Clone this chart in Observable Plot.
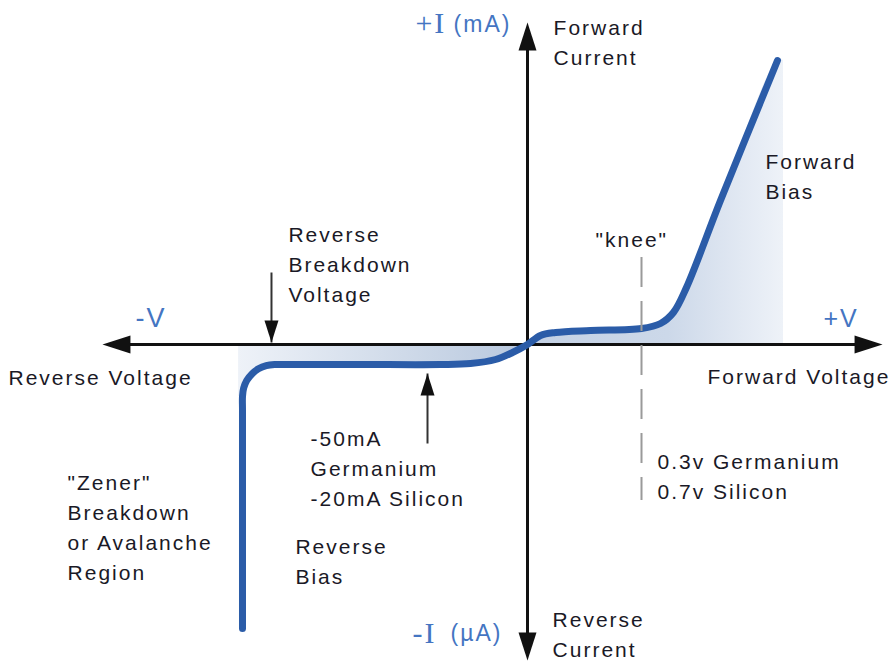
<!DOCTYPE html>
<html><head><meta charset="utf-8">
<script src="https://cdn.jsdelivr.net/npm/d3@7"></script>
<script src="https://cdn.jsdelivr.net/npm/@observablehq/plot@0.6"></script>
<style>
html,body{margin:0;padding:0;background:#fff;overflow:hidden}
svg text{letter-spacing:2px}
</style></head><body><div id="chart"></div>
<script>
// ---- Diode I-V characteristic (schematic units: V on x, current on y) ----
const curveV = [-1.750,-1.750,-1.750,-1.750,-1.743,-1.724,-1.692,-1.652,-1.604,-1.553,-1.455,-1.025,-0.534,-0.350,-0.196,-0.092,0,0.080,0.172,0.387,0.700,0.817,0.896,0.976,1.185,1.535];
const curveI = [-28.4,-15.6,-6.6,-5.2,-4.37,-3.6,-2.94,-2.43,-2.11,-2.0,-2.0,-2.0,-2.0,-1.9,-1.5,-0.8,0,0.9,1.2,1.4,1.6,2.1,3.2,5.7,14.4,28.4];
const reverseShadeStart = 3, originIndex = 16;
const reverseEdgeV = -1.774, forwardEdgeV = 1.572;

const kneeV = 0.700, kneeTop = 8.7, kneeBottom = -15.6;

// axis arrows: line extents and arrow tips
const axisX1 = [-2.53, 0], axisY1 = [0, 30.9], axisX2 = [2.106, 0], axisY2 = [0, -30.4];
const axisTipV = [-2.610, 2.180, 0, 0];
const axisTipI = [0, 0, 32.2, -31.6];
const axisTipRotate = [270, 90, 0, 180];

// annotation arrows (tail -> tip)
const noteTailV = [-1.572, -0.614], noteTailI = [7.2, -9.9];
const noteTipV = [-1.572, -0.614], noteTipI = [0.2, -2.9];
const noteRotate = [180, 0];

// dark labels
const labelText = ["Forward\nCurrent","Reverse Voltage","Forward Voltage","Reverse\nBreakdown\nVoltage","-50mA\nGermanium\n-20mA Silicon","\"Zener\"\nBreakdown\nor Avalanche\nRegion","Reverse\nBias","Forward\nBias","\"knee\"","Reverse\nCurrent","0.3v Germanium\n0.7v Silicon"];
const labelV = [0.160,-3.187,1.105,-1.468,-1.332,-2.824,-1.425,1.461,0.418,0.154,0.798];
const labelI = [30.4,-3.1,-3.0,8.25,-12.2,-18.1,-21.5,17.05,10.7,-28.75,-12.95];

// blue axis labels
const blueText = ["-V","+V","(mA)","(\u00b5A)"];
const blueV = [-2.407,1.817,-0.454,-0.473];
const blueI = [2.6,2.6,32.0,-28.9];
const blueSize = [27,25,23,23];
const serifText = ["+I","-I"];
const serifV = [-0.688,-0.706];
const serifI = [32.1,-28.9];

// ---- build tables ----
const curve = curveV.map((v,i)=>({v, i: curveI[i]}));
const reverseShade = [{v: reverseEdgeV, i: curveI[reverseShadeStart]}, ...curve.slice(reverseShadeStart, originIndex+1)];
const forwardShade = [...curve.slice(originIndex), {v: forwardEdgeV, i: curveI[curveI.length-1]}];
const axisLines = axisX1.map((x,k)=>({x1:x, y1:axisY1[k], x2:axisX2[k], y2:axisY2[k]}));
const axisTips = axisTipV.map((v,k)=>({v, i: axisTipI[k], r: axisTipRotate[k]}));
const notes = noteTailV.map((v,k)=>({x1:v, y1:noteTailI[k], x2:noteTipV[k], y2:noteTipI[k]}));
const noteTips = noteTipV.map((v,k)=>({v, i: noteTipI[k], r: noteRotate[k]}));
const labels = labelText.map((t,k)=>({t, v: labelV[k], i: labelI[k]}));
const blues = blueText.map((t,k)=>({t, v: blueV[k], i: blueI[k], s: blueSize[k]}));
const serifs = serifText.map((t,k)=>({t, v: serifV[k], i: serifI[k]}));

function arrowHead(L, W) {
  return {draw(ctx) { ctx.moveTo(0,0); ctx.lineTo(W/2, L); ctx.lineTo(-W/2, L); ctx.closePath(); }};
}

const FONT = "Liberation Sans, Arial, sans-serif";
const BLUE = "#4475c2";
const INK = "#1a1926";

function gradients() {
  const g = d3.create("svg:g");
  const defs = g.append("defs");
  const f = defs.append("linearGradient").attr("id","fwdGrad").attr("x1",0).attr("y1",0).attr("x2",1).attr("y2",0);
  f.append("stop").attr("offset",0).attr("stop-color","#c4d1e4");
  f.append("stop").attr("offset",0.55).attr("stop-color","#ccd8e9");
  f.append("stop").attr("offset",1).attr("stop-color","#eef2f8");
  const r = defs.append("linearGradient").attr("id","revGrad").attr("x1",0).attr("y1",0).attr("x2",1).attr("y2",0);
  r.append("stop").attr("offset",0).attr("stop-color","#eef2f8");
  r.append("stop").attr("offset",1).attr("stop-color","#b8c8de");
  return g.node();
}

const chart = Plot.plot({
  width: 893, height: 664,
  marginTop: 0, marginRight: 0, marginBottom: 0, marginLeft: 0,
  x: {domain: [-527/162.86, 366/162.86], range: [0, 893], axis: null},
  y: {domain: [-32, 34.4], range: [664, 0], axis: null},
  style: {background: "#fff", overflow: "visible"},
  marks: [
    gradients,
    Plot.areaY(reverseShade, {x: "v", y1: 0, y2: "i", curve: "catmull-rom", fill: "url(#revGrad)"}),
    Plot.areaY(forwardShade, {x: "v", y1: 0, y2: "i", curve: "catmull-rom", fill: "url(#fwdGrad)"}),
    Plot.link(axisLines, {x1: "x1", y1: "y1", x2: "x2", y2: "y2", stroke: "#111", strokeWidth: 3}),
    Plot.dot(axisTips, {x: "v", y: "i", rotate: "r", r: 5, symbol: arrowHead(28, 18), fill: "#111", stroke: null}),
    Plot.link(notes, {x1: "x1", y1: "y1", x2: "x2", y2: "y2", stroke: "#333", strokeWidth: 2}),
    Plot.dot(noteTips, {x: "v", y: "i", rotate: "r", r: 5, symbol: arrowHead(22, 14), fill: "#111", stroke: null}),
    Plot.line(curve, {x: "v", y: "i", curve: "catmull-rom", stroke: "#2b5ca8", strokeWidth: 7, strokeLinecap: "round", strokeLinejoin: "round"}),
    Plot.ruleX([kneeV], {y1: kneeTop, y2: kneeBottom, stroke: "#9a9a9a", strokeWidth: 2, strokeDasharray: "30,14"}),
    Plot.text(labels, {x: "v", y: "i", text: "t", textAnchor: "start", lineAnchor: "middle", lineHeight: 1.43, fontSize: 21, fontFamily: FONT, fill: INK}),
    Plot.text(blues, {x: "v", y: "i", text: "t", textAnchor: "start", lineAnchor: "middle", fontSize: "s", fontFamily: FONT, fill: BLUE}),
    Plot.text(serifs, {x: "v", y: "i", text: "t", textAnchor: "start", lineAnchor: "middle", fontSize: 30, fontFamily: "Liberation Serif, Times New Roman, serif", fill: BLUE})
  ]
});
document.getElementById("chart").appendChild(chart);
</script></body></html>
